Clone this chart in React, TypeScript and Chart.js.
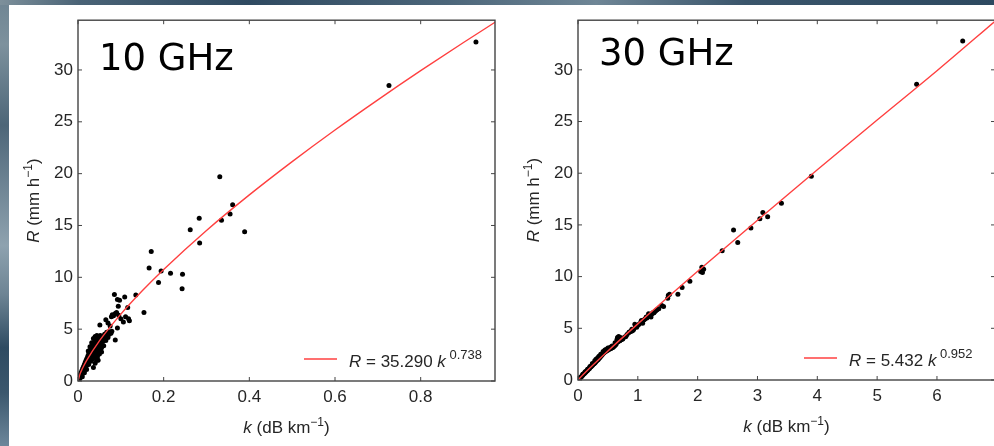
import React, { useEffect, useRef } from "react";
import { Chart, registerables } from "chart.js";
Chart.register(...registerables);

// ---------- 10 GHz data ----------
const k10 = [
  0.929, 0.726, 0.331, 0.361, 0.355, 0.335, 0.283, 0.262, 0.389, 0.284, 0.171, 0.166, 0.194, 0.216, 0.244,
  0.188, 0.243, 0.135, 0.085, 0.109, 0.092, 0.097, 0.094, 0.116, 0.154, 0.087, 0.08, 0.078, 0.083, 0.09,
  0.095, 0.1, 0.111, 0.118, 0.106, 0.12, 0.051, 0.065, 0.07, 0.075, 0.092, 0.072, 0.077, 0.087, 0.065,
  0.002, 0.003, 0.004, 0.005, 0.006, 0.007, 0.008, 0.009, 0.01, 0.011, 0.012, 0.013, 0.014, 0.015, 0.016,
  0.017, 0.018, 0.019, 0.02, 0.021, 0.022, 0.023, 0.024, 0.025, 0.026, 0.027, 0.028, 0.029, 0.03, 0.031,
  0.032, 0.033, 0.034, 0.035, 0.036, 0.037, 0.038, 0.039, 0.04, 0.041, 0.042, 0.043, 0.044, 0.045, 0.046,
  0.047, 0.048, 0.049, 0.05, 0.052, 0.054, 0.056, 0.058, 0.06, 0.062, 0.064, 0.067, 0.07, 0.024, 0.028,
  0.032, 0.036, 0.04, 0.044, 0.05, 0.055, 0.046, 0.04, 0.035, 0.03, 0.025, 0.02, 0.015, 0.01, 0.047,
  0.045, 0.036, 0.04, 0.05, 0.055, 0.044, 0.06, 0.066, 0.008, 0.012, 0.016, 0.022, 0.027, 0.033,
  0.038, 0.043, 0.053, 0.057, 0.063, 0.073, 0.079, 0.068,
];
const r10 = [
  32.7, 28.5, 19.7, 17.0, 16.1, 15.5, 15.7, 14.6, 14.4, 13.3, 12.5, 10.9, 10.6, 10.4, 10.3,
  9.5, 8.9, 8.3, 8.35, 8.1, 7.85, 7.8, 7.2, 7.1, 6.6, 6.5, 6.4, 6.2, 6.3, 6.6,
  6.35, 6.0, 6.2, 6.0, 5.7, 5.8, 5.4, 5.9, 5.6, 5.3, 5.1, 4.75, 4.6, 3.95, 3.9,
  0.15, 0.4, 0.25, 0.6, 0.35, 0.8, 0.55, 1.0, 0.7, 1.2, 0.9, 1.4, 1.05, 1.6, 1.2,
  1.8, 1.35, 2.0, 1.5, 2.2, 1.7, 2.4, 1.9, 2.6, 2.0, 2.8, 2.2, 3.0, 2.4, 3.2,
  2.6, 3.4, 2.1, 3.0, 2.8, 3.6, 2.5, 3.8, 3.2, 2.9, 4.0, 3.4, 2.7, 4.2, 3.6,
  3.0, 4.3, 3.9, 3.3, 4.4, 3.6, 4.1, 3.8, 4.3, 4.5, 4.0, 4.7, 4.2, 2.9, 3.3,
  3.7, 4.1, 4.3, 4.4, 2.9, 3.2, 2.5, 2.3, 2.6, 1.9, 1.6, 1.1, 0.8, 0.4, 2.0,
  2.3, 1.3, 1.7, 2.6, 2.8, 2.0, 3.4, 4.4, 0.75, 1.05, 1.45, 1.85, 2.3, 2.75,
  3.1, 3.55, 3.9, 4.2, 4.1, 4.5, 4.8, 4.3,
];
const fitK10 = [0, 0.005, 0.01, 0.02, 0.05, 0.1, 0.15, 0.2, 0.3, 0.4, 0.5, 0.6, 0.7, 0.8, 0.9, 0.975];
const fitR10 = [0, 0.71, 1.18, 1.97, 3.87, 6.45, 8.7, 10.76, 14.52, 17.95, 21.16, 24.21, 27.12, 29.93, 32.65, 34.64];

// ---------- 30 GHz data ----------
const k30 = [
  6.43, 5.66, 3.9, 3.4, 3.09, 3.04, 3.17, 2.89, 2.6, 2.67, 2.41, 2.05, 2.07, 2.08, 2.1,
  1.87, 1.74, 1.67, 1.5, 1.51, 1.53, 1.4, 1.43, 1.32, 1.28, 1.25, 1.22, 1.2, 1.15, 1.12,
  1.08, 1.05, 1.0, 0.98, 0.95, 0.92, 0.88, 0.85, 0.8, 0.75, 0.72, 0.7, 0.68, 0.66, 0.65,
  0.63, 0.6, 0.58, 0.55, 0.52, 0.5, 0.48, 0.46, 0.44, 0.42, 0.4, 0.38, 0.36, 0.34, 0.32,
  0.3, 0.28, 0.26, 0.24, 0.22, 0.2, 0.18, 0.16, 0.14, 0.12, 0.1, 0.08, 0.06, 0.04, 0.02,
  0.45, 0.5, 0.55, 0.35, 0.3, 1.18, 1.3, 0.9, 0.62,
  0.03, 0.05, 0.07, 0.09, 0.11, 0.13, 0.15, 0.17, 0.19, 0.21, 0.23, 0.25, 0.27, 0.29, 0.31,
  0.33, 0.35, 0.37, 0.39, 0.41, 0.43, 0.45, 0.47, 0.49, 0.51, 0.53, 0.56, 0.59, 0.61, 0.64,
  0.67, 0.69, 0.71, 0.74, 0.78, 0.82, 0.86, 0.9, 0.93, 0.96, 1.02, 1.06, 1.1, 1.14, 1.18,
  1.24, 1.27, 1.35, 0.38, 0.42, 0.47, 0.52, 0.57, 0.33, 0.28, 0.24, 0.2, 0.16, 0.12, 0.08,
];
const r30 = [
  32.8, 28.6, 19.7, 17.1, 16.2, 15.6, 15.8, 14.7, 14.5, 13.3, 12.5, 10.5, 10.9, 10.4, 10.7,
  9.55, 8.95, 8.3, 7.9, 8.2, 8.3, 7.2, 7.1, 6.8, 6.6, 6.5, 6.1, 6.3, 6.0, 5.9,
  5.5, 5.6, 5.3, 5.1, 5.4, 4.8, 4.7, 4.6, 4.2, 4.0, 3.9, 3.8, 4.2, 4.1, 3.9,
  3.4, 3.3, 3.15, 3.05, 3.0, 2.9, 2.85, 2.75, 2.7, 2.6, 2.45, 2.3, 2.15, 2.0, 1.9,
  1.78, 1.65, 1.55, 1.42, 1.3, 1.2, 1.08, 0.95, 0.85, 0.72, 0.6, 0.48, 0.35, 0.25, 0.12,
  2.9, 3.1, 3.2, 2.3, 2.0, 6.4, 6.7, 4.9, 3.6,
  0.2, 0.3, 0.42, 0.55, 0.65, 0.78, 0.9, 1.02, 1.12, 1.25, 1.38, 1.5, 1.6, 1.72, 1.85,
  1.95, 2.1, 2.22, 2.35, 2.5, 2.62, 2.72, 2.8, 2.88, 2.95, 3.0, 3.1, 3.2, 3.3, 3.5,
  3.7, 4.0, 4.1, 3.95, 4.15, 4.4, 4.65, 4.75, 4.9, 5.2, 5.4, 5.75, 5.8, 6.1, 6.2,
  6.4, 6.5, 6.9, 2.5, 2.75, 2.95, 3.1, 3.3, 2.15, 1.85, 1.6, 1.3, 1.05, 0.8, 0.55,
];
const fitK30 = [0, 0.02, 0.1, 0.5, 1, 2, 3, 4, 5, 6, 6.97];
const fitR30 = [0, 0.13, 0.61, 2.81, 5.43, 10.51, 15.46, 20.33, 25.14, 29.91, 34.7];

const Y_MAX = 34.8;
const Y_STEP = 5;

type Part = { t: string; i?: boolean; sup?: boolean };

const FONT = "'Liberation Sans', Arial, Helvetica, sans-serif";
const TEXT = "#262626";

function drawRich(ctx: CanvasRenderingContext2D, parts: Part[], x: number, y: number, size: number, supSize: number, supRaise: number, align: "left" | "center") {
  const fontOf = (p: Part) => `${p.i ? "italic " : ""}${p.sup ? supSize : size}px ${FONT}`;
  let total = 0;
  const widths = parts.map((p) => {
    ctx.font = fontOf(p);
    const w = ctx.measureText(p.t).width;
    total += w;
    return w;
  });
  let cx = align === "center" ? x - total / 2 : x;
  ctx.textAlign = "left";
  ctx.textBaseline = "alphabetic";
  parts.forEach((p, idx) => {
    ctx.font = fontOf(p);
    ctx.fillText(p.t, cx, p.sup ? y - supRaise : y);
    cx += widths[idx];
  });
}

type PanelProps = {
  kVals: number[];
  rVals: number[];
  fitK: number[];
  fitR: number[];
  xMax: number;
  xStep: number;
  left: number;
  width: number;
  padTop: number;
  padRight: number;
  yAxisWidth: number;
  xAxisHeight: number;
  legendParts: Part[];
};

function Panel(props: PanelProps) {
  const ref = useRef<HTMLCanvasElement | null>(null);
  useEffect(() => {
    const canvas = ref.current;
    if (!canvas) return;
    const framePlugin = {
      id: "frame",
      afterDraw(chart: any) {
        const ctx: CanvasRenderingContext2D = chart.ctx;
        const { left, right, top, bottom } = chart.chartArea;
        const xs = chart.scales.x;
        const ys = chart.scales.y;
        ctx.save();
        ctx.strokeStyle = "#444";
        ctx.lineWidth = 1.4;
        ctx.strokeRect(left, top, right - left, bottom - top);
        ctx.lineWidth = 1;
        const tl = 4;
        ctx.beginPath();
        xs.ticks.forEach((t: any) => {
          const px = xs.getPixelForValue(t.value);
          ctx.moveTo(px, bottom);
          ctx.lineTo(px, bottom - tl);
          ctx.moveTo(px, top);
          ctx.lineTo(px, top + tl);
        });
        ys.ticks.forEach((t: any) => {
          const py = ys.getPixelForValue(t.value);
          ctx.moveTo(left, py);
          ctx.lineTo(left + tl, py);
          ctx.moveTo(right, py);
          ctx.lineTo(right - tl, py);
        });
        ctx.stroke();

        ctx.fillStyle = TEXT;
        drawRich(ctx, [{ t: "k", i: true }, { t: " (dB km" }, { t: "\u22121", sup: true }, { t: ")" }], (left + right) / 2, bottom + 52, 17, 12, 7, "center");
        ctx.save();
        ctx.translate(left - 39, (top + bottom) / 2);
        ctx.rotate(-Math.PI / 2);
        drawRich(ctx, [{ t: "R", i: true }, { t: " (mm h" }, { t: "\u22121", sup: true }, { t: ")" }], 0, 0, 17, 12, 7, "center");
        ctx.restore();

        ctx.strokeStyle = "#ff4040";
        ctx.lineWidth = 1.4;
        ctx.beginPath();
        ctx.moveTo(right - 191, bottom - 22);
        ctx.lineTo(right - 158, bottom - 22);
        ctx.stroke();
        ctx.fillStyle = TEXT;
        drawRich(ctx, props.legendParts, right - 146, bottom - 14, 17, 13, 8.5, "left");
        ctx.restore();
      },
    };

    const chart = new Chart(canvas, {
      type: "scatter",
      data: {
        datasets: [
          {
            label: "fit",
            data: props.fitK.map((k, i) => ({ x: k, y: props.fitR[i] })),
            showLine: true,
            borderColor: "#ff4040",
            borderWidth: 1.4,
            pointRadius: 0,
            cubicInterpolationMode: "monotone",
            fill: false,
          } as any,
          {
            label: "data",
            data: props.kVals.map((k, i) => ({ x: k, y: props.rVals[i] })),
            backgroundColor: "#000",
            borderWidth: 0,
            pointRadius: 2.5,
          },
        ],
      },
      options: {
        responsive: false,
        animation: false,
        devicePixelRatio: 1,
        layout: { padding: { top: props.padTop, right: props.padRight, left: 0, bottom: 0 } },
        plugins: { legend: { display: false }, tooltip: { enabled: false } },
        scales: {
          x: {
            type: "linear",
            min: 0,
            max: props.xMax,
            grid: { display: false, drawTicks: false },
            border: { display: false },
            ticks: {
              stepSize: props.xStep,
              includeBounds: false,
              padding: 6,
              color: TEXT,
              font: { family: FONT, size: 17 },
              maxRotation: 0,
              callback: (v: any) => String(Math.round(Number(v) * 10) / 10),
            },
            afterFit: (s: any) => {
              s.height = props.xAxisHeight;
            },
          },
          y: {
            type: "linear",
            min: 0,
            max: Y_MAX,
            grid: { display: false, drawTicks: false },
            border: { display: false },
            ticks: {
              stepSize: Y_STEP,
              includeBounds: false,
              padding: 5,
              color: TEXT,
              font: { family: FONT, size: 17 },
              callback: (v: any) => String(Math.round(Number(v))),
            },
            afterFit: (s: any) => {
              s.width = props.yAxisWidth;
            },
          },
        },
      } as any,
      plugins: [framePlugin],
    });
    return () => chart.destroy();
  }, []);
  return (
    <canvas
      ref={ref}
      width={props.width}
      height={441}
      style={{ position: "absolute", left: props.left, top: 5, width: props.width, height: 441 }}
    />
  );
}

export default function App() {
  return (
    <div
      style={{
        position: "absolute",
        left: 0,
        top: 0,
        width: 994,
        height: 446,
        overflow: "hidden",
        background:
          "linear-gradient(to bottom, #6f8593 0%, #7d919d 10%, #4d6678 28%, #8ea2af 55%, #6d8494 66%, #2e4b62 78%, #3b576d 88%, #6c879b 100%)",
      }}
    >
      <div
        style={{
          position: "absolute",
          left: 0,
          top: 0,
          width: 994,
          height: 5,
          background:
            "linear-gradient(to right, #7d909b 0%, #4a6376 8%, #2f4a61 25%, #4c667a 45%, #6f8696 60%, #3a556b 75%, #2d4960 100%)",
        }}
      />
      <div style={{ position: "absolute", left: 9, top: 5, width: 985, height: 441, background: "#fff" }} />
      <Panel
        kVals={k10}
        rVals={r10}
        fitK={fitK10}
        fitR={fitR10}
        xMax={0.9735}
        xStep={0.2}
        left={9}
        width={491}
        padTop={15}
        padRight={5}
        yAxisWidth={69}
        xAxisHeight={65}
        legendParts={[{ t: "R", i: true }, { t: " = 35.290 " }, { t: "k", i: true }, { t: " ", sup: true }, { t: "0.738", sup: true }]}
      />
      <Panel
        kVals={k30}
        rVals={r30}
        fitK={fitK30}
        fitR={fitR30}
        xMax={6.97}
        xStep={1}
        left={500}
        width={500}
        padTop={14}
        padRight={5}
        yAxisWidth={78}
        xAxisHeight={66}
        legendParts={[{ t: "R", i: true }, { t: " = 5.432 " }, { t: "k", i: true }, { t: " ", sup: true }, { t: "0.952", sup: true }]}
      />
      <div
        style={{
          position: "absolute",
          left: 99,
          top: 38.7,
          fontFamily: "'DejaVu Sans', Verdana, sans-serif",
          fontSize: 37,
          lineHeight: "37px",
          color: "#000",
          whiteSpace: "nowrap",
        }}
      >
        10 GHz
      </div>
      <div
        style={{
          position: "absolute",
          left: 599,
          top: 33.7,
          fontFamily: "'DejaVu Sans', Verdana, sans-serif",
          fontSize: 37,
          lineHeight: "37px",
          color: "#000",
          whiteSpace: "nowrap",
        }}
      >
        30 GHz
      </div>
    </div>
  );
}
